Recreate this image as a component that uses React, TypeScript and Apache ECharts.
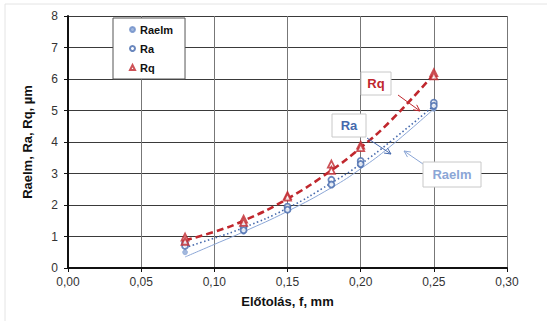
import React, { useEffect, useRef } from "react";
import * as echarts from "echarts";

const feeds = [0.08, 0.12, 0.15, 0.18, 0.2, 0.25];
// measured points (two repeated measurements for Ra and Rq)
const raelmValues = [0.5, 1.15, 1.85, 2.65, 3.25, 5.05];
const raValuesA = [0.8, 1.3, 1.95, 2.8, 3.4, 5.25];
const raValuesB = [0.7, 1.2, 1.85, 2.65, 3.3, 5.15];
const rqValuesA = [0.98, 1.55, 2.3, 3.3, 3.9, 6.2];
const rqValuesB = [0.85, 1.45, 2.25, 3.1, 3.82, 6.1];
// trend lines
const trendFeeds = [0.08, 0.1, 0.12, 0.15, 0.18, 0.2, 0.22, 0.25];
const raelmTrend = [0.35, 0.75, 1.15, 1.8, 2.55, 3.15, 3.85, 5.05];
const raTrend = [0.65, 0.95, 1.28, 1.9, 2.7, 3.3, 4.0, 5.15];
const rqTrend = [0.88, 1.15, 1.5, 2.2, 3.1, 3.82, 4.65, 6.15];

const RQ = "#c0272d";
const RA = "#4569ad";
const RAELM = "#8ba6d6";

const pairs = (xs: number[], ys: number[]) => xs.map((x, i) => [x, ys[i]]);

export default function App() {
  const ref = useRef<HTMLDivElement>(null);
  useEffect(() => {
    const chart = echarts.init(ref.current!, null, { renderer: "svg" });
    const font = "Liberation Sans, Arial, sans-serif";
    const arrow = (x1: number, y1: number, x2: number, y2: number, color: string) => {
      const ang = Math.atan2(y2 - y1, x2 - x1);
      const L = 7;
      const a1 = ang + Math.PI - 0.45;
      const a2 = ang + Math.PI + 0.45;
      return [
        { type: "line", shape: { x1, y1, x2, y2 }, style: { stroke: color, lineWidth: 1 }, z: 100 },
        {
          type: "polyline",
          shape: {
            points: [
              [x2 + L * Math.cos(a1), y2 + L * Math.sin(a1)],
              [x2, y2],
              [x2 + L * Math.cos(a2), y2 + L * Math.sin(a2)],
            ],
          },
          style: { stroke: color, lineWidth: 1, fill: null },
          z: 100,
        },
      ];
    };
    const labelBox = (x: number, y: number, w: number, h: number, text: string, color: string) => [
      { type: "rect", shape: { x, y, width: w, height: h }, style: { fill: "#fff", stroke: "#c8c8c8", lineWidth: 1 }, z: 100 },
      {
        type: "text",
        x: x + w / 2,
        y: y + h / 2,
        style: { text, fill: color, font: `bold 13px ${font}`, align: "center", verticalAlign: "middle" },
        z: 101,
      },
    ];
    chart.setOption({
      animation: false,
      backgroundColor: "#fff",
      grid: { left: 68, top: 16, right: 40, bottom: 53 },
      xAxis: {
        type: "value",
        min: 0,
        max: 0.3,
        interval: 0.05,
        name: "Előtolás, f, mm",
        nameLocation: "middle",
        nameGap: 27,
        nameTextStyle: { fontFamily: font, fontWeight: "bold", fontSize: 13, color: "#111" },
        axisLine: { show: true, lineStyle: { color: "#111", width: 2 } },
        axisTick: { show: true, length: 4, lineStyle: { color: "#111" } },
        axisLabel: {
          fontFamily: font,
          fontSize: 12,
          color: "#333",
          margin: 8,
          formatter: (v: number) => v.toFixed(2).replace(".", ","),
        },
        splitLine: { show: true, lineStyle: { color: "#777", width: 1 } },
      },
      yAxis: {
        type: "value",
        min: 0,
        max: 8,
        interval: 1,
        name: "Raelm, Ra, Rq, µm",
        nameLocation: "middle",
        nameGap: 34,
        nameTextStyle: { fontFamily: font, fontWeight: "bold", fontSize: 13, color: "#111" },
        axisLine: { show: true, lineStyle: { color: "#111", width: 2 } },
        axisTick: { show: true, length: 4, lineStyle: { color: "#111" } },
        axisLabel: { fontFamily: font, fontSize: 12, color: "#333", margin: 10 },
        splitLine: { show: true, lineStyle: { color: "#3a3a3a", width: 1 } },
      },
      legend: {
        orient: "vertical",
        left: 113,
        top: 18,
        padding: [6, 12, 6, 16],
        itemGap: 8,
        itemWidth: 5,
        itemHeight: 5,
        borderColor: "#555",
        borderWidth: 1,
        backgroundColor: "#fff",
        textStyle: { fontFamily: font, fontWeight: "bold", fontSize: 11, color: "#111" },
        data: [
          { name: "Raelm", icon: "circle" },
          { name: "Ra", icon: "circle" },
          { name: "Rq", icon: "triangle" },
        ],
      },
      series: [
        {
          type: "line",
          name: "trendRaelm",
          data: pairs(trendFeeds, raelmTrend),
          smooth: true,
          showSymbol: false,
          lineStyle: { color: RAELM, width: 1 },
          z: 2,
        },
        {
          type: "line",
          name: "trendRa",
          data: pairs(trendFeeds, raTrend),
          smooth: true,
          showSymbol: false,
          lineStyle: { color: RA, width: 1.6, type: [1.5, 2.5] },
          z: 2,
        },
        {
          type: "line",
          name: "trendRq",
          data: pairs(trendFeeds, rqTrend),
          smooth: true,
          showSymbol: false,
          lineStyle: { color: RQ, width: 2.6, type: [7, 4] },
          z: 3,
        },
        {
          type: "scatter",
          name: "Raelm",
          data: pairs(feeds, raelmValues),
          symbol: "circle",
          symbolSize: 5,
          itemStyle: { color: RAELM, borderColor: "#6f8fc8", borderWidth: 0.5 },
          z: 4,
        },
        {
          type: "scatter",
          name: "Ra",
          data: [...pairs(feeds, raValuesA), ...pairs(feeds, raValuesB)],
          symbol: "circle",
          symbolSize: 6,
          itemStyle: { color: "#fff", borderColor: RA, borderWidth: 1.8 },
          z: 5,
        },
        {
          type: "scatter",
          name: "Rq",
          data: [...pairs(feeds, rqValuesA), ...pairs(feeds, rqValuesB)],
          symbol: "triangle",
          symbolSize: 7,
          itemStyle: { color: "#fff", borderColor: RQ, borderWidth: 1.8 },
          z: 6,
        },
      ],
      graphic: [
        { type: "rect", shape: { x: 5, y: 4, width: 560, height: 330 }, style: { fill: null, stroke: "#e4e4e4", lineWidth: 1 }, z: -1, silent: true },
        ...arrow(398, 95, 420, 111, RQ),
        ...labelBox(361, 72, 30, 23, "Rq", RQ),
        ...arrow(367, 138, 391, 154, RA),
        ...labelBox(332, 114, 34, 23, "Ra", RA),
        ...arrow(423, 164, 404, 151, RAELM),
        ...labelBox(423, 162, 58, 25, "Raelm", RAELM),
      ],
    });
    return () => chart.dispose();
  }, []);
  return <div ref={ref} style={{ width: 547, height: 321, position: "absolute", left: 0, top: 0 }} />;
}
